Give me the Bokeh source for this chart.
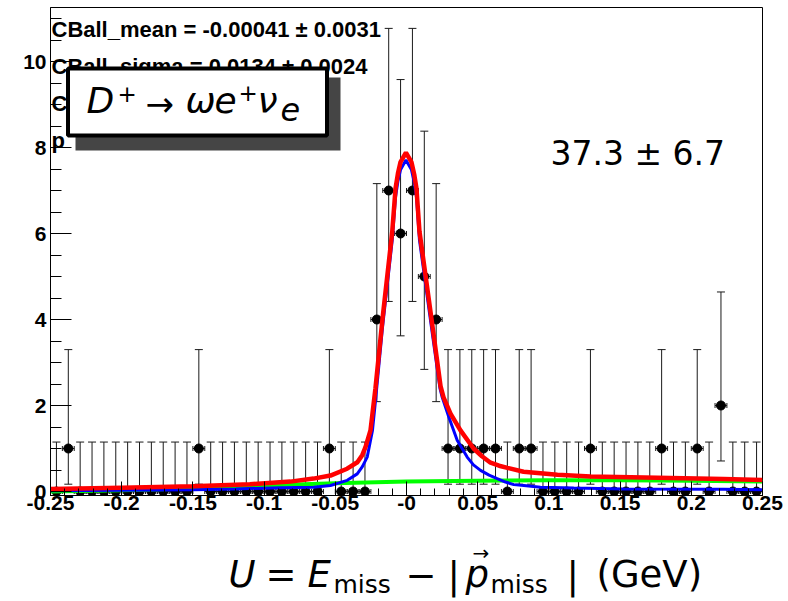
import numpy as np
from bokeh.plotting import figure
from bokeh.layouts import column
from bokeh.models import Range1d, FixedTicker, CustomJSTickFormatter
from bokeh.core.properties import value
from bokeh.embed import file_html
from bokeh.resources import INLINE

# ---- histogram of U = Emiss - |pmiss| : 60 bins over [-0.25, 0.25] GeV ----
x_lo, x_hi, n_bins = -0.25, 0.25, 60
counts = [0, 1, 0, 0, 0, 0, 0, 0, 0, 0,
          0, 0, 1, 0, 0, 0, 0, 0, 0, 0,
          0, 0, 0, 1, 0, 0, 0, 4, 7, 6,
          7, 5, 4, 1, 1, 1, 1, 1, 0, 1,
          1, 0, 0, 0, 0, 1, 0, 0, 0, 0,
          0, 1, 0, 0, 1, 0, 2, 0, 0, 0]

# asymmetric (Poisson) error bar ends, by bin content
err_n = [0, 1, 2, 4, 5, 6, 7]
err_low = [0.0, 0.17, 0.71, 2.09, 2.84, 3.62, 4.42]
err_high = [1.15, 3.30, 4.64, 7.16, 8.38, 9.58, 10.77]

# ---- fitted curves ----
# signal (Crystal Ball)
sig_x = [-0.25, -0.20, -0.15, -0.12, -0.0885, -0.0653, -0.0534, -0.0416, -0.0346,
         -0.0310, -0.0276, -0.0239, -0.0215, -0.0169, -0.0100, -0.0077, -0.0060,
         -0.0042, -0.0004, 0.0035, 0.0055, 0.0070, 0.0091, 0.0176, 0.0235, 0.0251,
         0.0297, 0.0356, 0.0426, 0.0470, 0.0520, 0.0580, 0.0637, 0.0695, 0.0754,
         0.0824, 0.0941, 0.1175, 0.1526, 0.2226, 0.25]
sig_y = [0.02, 0.03, 0.04, 0.06, 0.09, 0.10, 0.14, 0.26, 0.41,
         0.58, 0.80, 1.42, 2.20, 3.80, 5.85, 6.85, 7.22,
         7.48, 7.71, 7.48, 7.18, 6.85, 5.85, 3.80, 2.40, 2.19,
         1.73, 1.19, 0.80, 0.62, 0.49, 0.38, 0.30, 0.22, 0.16,
         0.14, 0.10, 0.08, 0.06, 0.05, 0.04]
# background
bkg_x = [-0.25, -0.20, -0.15, -0.10, -0.05, 0.0, 0.05, 0.10, 0.15, 0.20, 0.25]
bkg_y = [0.00, 0.03, 0.07, 0.14, 0.19, 0.23, 0.25, 0.26, 0.26, 0.25, 0.23]
# total
tot_x = [-0.25, -0.20, -0.15, -0.11, -0.0815, -0.0653, -0.0534, -0.0417, -0.0345,
         -0.0310, -0.0288, -0.0253, -0.0218, -0.0169, -0.0100, -0.0077, -0.0060,
         -0.0042, -0.0004, 0.0035, 0.0055, 0.0070, 0.0091, 0.0176, 0.0239, 0.0260,
         0.0309, 0.0379, 0.0471, 0.0530, 0.0590, 0.0650, 0.0709, 0.0822, 0.1060,
         0.1292, 0.1763, 0.2226, 0.25]
tot_y = [0.06, 0.09, 0.12, 0.17, 0.23, 0.30, 0.37, 0.53, 0.68,
         0.85, 1.03, 1.42, 2.40, 4.00, 6.05, 7.05, 7.40,
         7.66, 7.88, 7.66, 7.36, 7.05, 6.05, 4.00, 2.45, 2.19,
         1.81, 1.42, 1.00, 0.82, 0.67, 0.60, 0.55, 0.46, 0.39,
         0.35, 0.32, 0.29, 0.27]

# ---- axis ticks and texts ----
x_ticks = [-0.25, -0.2, -0.15, -0.1, -0.05, 0.0, 0.05, 0.1, 0.15, 0.2, 0.25]
x_tick_labels = ["-0.25", "-0.2", "-0.15", "-0.1", "-0.05", "-0",
                 "0.05", "0.1", "0.15", "0.2", "0.25"]
y_ticks = [0, 2, 4, 6, 8, 10]
fit_lines = ["CBall_mean = -0.00041 \u00b1 0.0031",
             "CBall_sigma = 0.0134 \u00b1 0.0024",
             "C",
             "p"]
yield_text = "37.3 \u00b1 6.7"

# ---- canvas geometry (pixels) ----
W, H = 788, 601
TOP_H = 530                                 # main plot height, title strip below
FL, FR, FT, FB = 50, 762, 7, 495            # frame edges of the main plot
ZERO_PX = 491
PX_PER_Y = 43.0
y_start = -(FB - ZERO_PX) / PX_PER_Y
y_end = (ZERO_PX - FT) / PX_PER_Y
BASE_SHIFT = 0.37                           # alphabetic anchor offset, in em


def X(px):
    return x_lo + (px - FL) * (x_hi - x_lo) / (FR - FL)


def Y(py):
    return (ZERO_PX - py) / PX_PER_Y


def base(py, size):
    return py - BASE_SHIFT * size


p = figure(width=W, height=TOP_H, x_range=Range1d(x_lo, x_hi),
           y_range=Range1d(y_start, y_end),
           output_backend="svg", toolbar_location=None,
           min_border_left=FL, min_border_right=W - FR,
           min_border_top=FT, min_border_bottom=TOP_H - FB)
p.grid.visible = False
p.background_fill_color = "white"
p.border_fill_color = "white"
p.outline_line_color = "black"
p.outline_line_width = 1

# axes
p.xaxis.ticker = FixedTicker(ticks=x_ticks,
                             minor_ticks=list(np.round(np.arange(-0.25, 0.2501, 0.01), 4)))
p.xaxis.formatter = CustomJSTickFormatter(
    args=dict(vals=x_ticks, labels=x_tick_labels),
    code="""
let best = 0;
for (let i = 0; i < vals.length; i++) {
  if (Math.abs(vals[i] - tick) < Math.abs(vals[best] - tick)) best = i;
}
return labels[best];
""")
p.yaxis.ticker = FixedTicker(ticks=y_ticks,
                             minor_ticks=list(np.arange(0, 11.01, 0.5)))
for ax in (p.xaxis[0], p.yaxis[0]):
    ax.axis_line_color = "black"
    ax.axis_line_width = 1
    ax.major_tick_line_color = "black"
    ax.minor_tick_line_color = "black"
    ax.major_tick_out = 0
    ax.minor_tick_out = 0
    ax.major_label_text_font = "Liberation Sans"
    ax.major_label_text_font_style = "bold"
    ax.major_label_text_font_size = "21px"
    ax.major_label_text_color = "black"
p.xaxis.major_tick_in = 14
p.xaxis.minor_tick_in = 7
p.xaxis.major_label_standoff = 0
p.yaxis.major_tick_in = 21
p.yaxis.minor_tick_in = 11
p.yaxis.major_label_standoff = 4

# ---- data points with error bars ----
edges = np.linspace(x_lo, x_hi, n_bins + 1)
centers = 0.5 * (edges[:-1] + edges[1:])
half_w = 0.5 * (x_hi - x_lo) / n_bins
lo_map = dict(zip(err_n, err_low))
hi_map = dict(zip(err_n, err_high))
ylo = [lo_map[c] for c in counts]
yhi = [hi_map[c] for c in counts]

ebar = "#1a1a1a"
p.segment(x0=centers, y0=ylo, x1=centers, y1=yhi, line_color=ebar, line_width=1)
p.scatter(x=centers, y=yhi, marker="dash", size=8, line_color=ebar, line_width=1)
p.scatter(x=centers, y=ylo, marker="dash", size=8, line_color=ebar, line_width=1)
p.segment(x0=centers - half_w, y0=counts, x1=centers + half_w, y1=counts,
          line_color=ebar, line_width=1)
p.scatter(x=np.concatenate([centers - half_w, centers + half_w]),
          y=counts + counts, marker="dash", angle=np.pi / 2, size=5,
          line_color=ebar, line_width=1)
p.scatter(x=centers, y=counts, marker="circle", size=9,
          fill_color="black", line_color="black")

# ---- fit curves ----
p.line(bkg_x, bkg_y, line_color="#00ff00", line_width=4)
p.line(sig_x, sig_y, line_color="#0000ff", line_width=3)
p.line(tot_x, tot_y, line_color="#ff0000", line_width=4.5)

# ---- fit parameter text ----
stat_size = 22
for i, line in enumerate(fit_lines):
    p.text(x=[X(51)], y=[Y(base(37 + 37 * i, stat_size))], text=[line],
           text_font=value("Liberation Sans"), text_font_style="bold",
           text_font_size=f"{stat_size}px", text_color="black",
           text_align="left", text_baseline="alphabetic")

# ---- decay channel box with shadow ----
p.quad(left=[X(75)], right=[X(340)], top=[Y(77)], bottom=[Y(150)],
       fill_color="#454545", line_color=None)
p.quad(left=[X(67.5)], right=[X(326.5)], top=[Y(68)], bottom=[Y(135)],
       fill_color="white", line_color="black", line_width=4)

math_font = value("DejaVu Sans")
channel_parts = [  # text, x px, baseline px, size px, style
    ("D", 86, 113, 36, "italic"),
    ("+", 117, 102, 23, "normal"),
    ("\u2192", 145, 116, 34, "normal"),
    ("\u03c9", 185, 113, 36, "italic"),
    ("e", 214, 113, 36, "italic"),
    ("+", 238, 101, 23, "normal"),
    ("\u03bd", 257, 113, 36, "italic"),
    ("e", 280, 121, 32, "italic"),
]
for t_, px_, py_, fs, st in channel_parts:
    p.text(x=[X(px_)], y=[Y(base(py_, fs))], text=[t_], text_font=math_font,
           text_font_size=f"{fs}px", text_font_style=st, text_color="black",
           text_align="left", text_baseline="alphabetic")

# signal yield
p.text(x=[X(550)], y=[Y(base(165, 33))], text=[yield_text], text_font=math_font,
       text_font_size="33px", text_color="black",
       text_align="left", text_baseline="alphabetic")

# ---- x axis title strip (canvas pixel coordinates, y downwards) ----
# the column aligns this strip's frame with the main frame (x from FL to FR)
t = figure(width=W, height=H - TOP_H, x_range=Range1d(FL, FR),
           y_range=Range1d(H, TOP_H), output_backend="svg",
           toolbar_location=None, min_border=0,
           min_border_left=FL, min_border_right=W - FR)
t.axis.visible = False
t.grid.visible = False
t.outline_line_color = None
t.background_fill_color = "white"
t.border_fill_color = "white"

title_parts = [  # text, x px, baseline px, size px, style
    ("U", 228, 588, 37, "italic"),
    ("=", 265, 588, 37, "normal"),
    ("E", 307, 588, 37, "italic"),
    ("miss", 333, 593, 25, "normal"),
    ("\u2212", 405, 588, 37, "normal"),
    ("|", 447, 590, 37, "normal"),
    ("p", 465, 588, 37, "italic"),
    ("\u2192", 472, 560, 20, "normal"),
    ("miss", 490, 593, 25, "normal"),
    ("|", 566, 590, 37, "normal"),
    ("(GeV)", 596, 588, 37, "normal"),
]
for txt, px_, py_, fs, st in title_parts:
    t.text(x=[px_], y=[base(py_, fs)], text=[txt], text_font=math_font,
           text_font_size=f"{fs}px", text_font_style=st, text_color="black",
           text_align="left", text_baseline="alphabetic")

layout = column(p, t, spacing=0)
open("out.html", "w").write(file_html(layout, INLINE))
